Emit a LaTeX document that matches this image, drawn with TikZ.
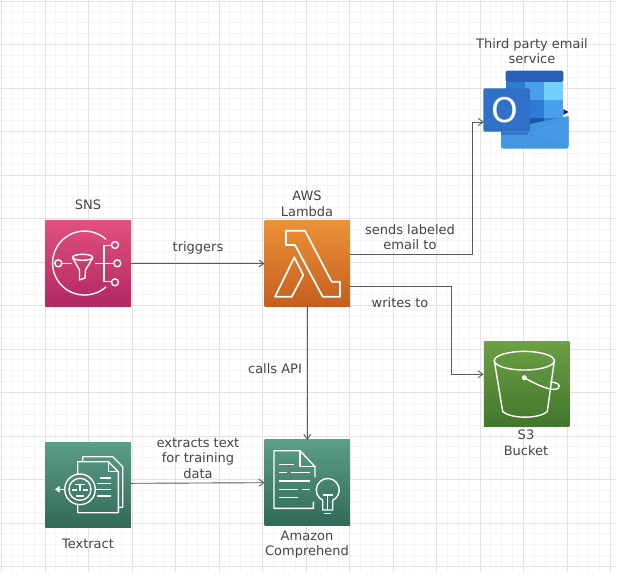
\documentclass[tikz,border=0pt]{standalone}
\usepackage{fontspec}
\setmainfont{DejaVu Sans}
\usetikzlibrary{arrows.meta}
\definecolor{labelgray}{HTML}{444444}
\definecolor{linkgray}{HTML}{5A5A5A}
\tikzset{
  awsbox/.style={minimum size=85.5pt,inner sep=0pt,outer sep=0pt},
  caption/.style={align=center,text=labelgray,inner sep=0pt,font=\fontsize{13}{15.5}\selectfont},
  link/.style={linkgray,line width=0.9pt,-{Straight Barb[length=5pt,width=7pt]}},
  icon/.style={white,line width=1.4pt,line join=round}
}
\begin{document}
\begin{tikzpicture}[x=1pt,y=-1pt]
\useasboundingbox (0,0) rectangle (617,573);
\fill[white] (0,0) rectangle (617,573);
\foreach \i in {0,...,56}
  {\draw[black!4,line width=0.8pt] (\i*10.875+1.5,0) -- (\i*10.875+1.5,572);
  \draw[black!4,line width=0.8pt] (0,\i*10.875+1) -- (616,\i*10.875+1);}
\foreach \i in {0,...,14}
  {\draw[black!11,line width=0.8pt] (\i*43.5+1.5,0) -- (\i*43.5+1.5,572);
  \draw[black!11,line width=0.8pt] (0,\i*43.5+1) -- (616,\i*43.5+1);}
\node[awsbox,top color={rgb,255:red,226;green,80;blue,128},bottom color={rgb,255:red,176;green,40;blue,96}] (sns) at (88.2,263.5) {};
\node[awsbox,top color={rgb,255:red,236;green,146;blue,54},bottom color={rgb,255:red,196;green,94;blue,32}] (lambda) at (307.3,263.5) {};
\node[awsbox,top color={rgb,255:red,108;green,160;blue,68},bottom color={rgb,255:red,66;green,118;blue,44}] (s3) at (526.5,384.2) {};
\node[awsbox,top color={rgb,255:red,92;green,158;blue,136},bottom color={rgb,255:red,48;green,106;blue,88}] (textract) at (88.2,484.8) {};
\node[awsbox,top color={rgb,255:red,92;green,158;blue,136},bottom color={rgb,255:red,48;green,106;blue,88}] (comprehend) at (307.3,482.7) {};
\node[minimum width=86pt,minimum height=80pt,inner sep=0pt,outer sep=0pt] (outlook) at (527,110) {};
\fill[rounded corners=1.5pt,fill={rgb,255:red,40;green,96;blue,184}] (505.7,70.7) rectangle (563.3,82);
\fill[fill={rgb,255:red,46;green,124;blue,208}] (505.7,81.7) rectangle (525,100);
\fill[fill={rgb,255:red,74;green,160;blue,232}] (525,81.7) rectangle (544,100);
\fill[fill={rgb,255:red,115;green,207;blue,253}] (544,81.7) rectangle (563.3,100);
\fill[fill={rgb,255:red,46;green,123;blue,213}] (505.7,100) rectangle (544,117.5);
\fill[fill={rgb,255:red,74;green,160;blue,232}] (544,100) rectangle (563.3,117.5);
\fill[fill={rgb,255:red,31;green,87;blue,168}] (505.7,117.5) rectangle (544,135);
\fill[fill={rgb,255:red,46;green,123;blue,213}] (544,117.5) rectangle (563.3,135);
\fill[fill={rgb,255:red,16;green,36;blue,122}] (563.3,109) -- (568.5,112) -- (563.3,115) -- cycle;
\fill[rounded corners=2pt,fill={rgb,255:red,66;green,150;blue,226}] (501,130) -- (568.5,116) -- (568.5,148.5) -- (501,148.5) -- cycle;
\fill[fill={rgb,255:red,70;green,154;blue,230}] (531,133) -- (568.5,116) -- (568.5,146) -- cycle;
\fill[fill={rgb,255:red,40;green,96;blue,168},opacity=0.55] (501,131.5) rectangle (528,135);
\fill[rounded corners=2pt,fill={rgb,255:red,47;green,113;blue,199}] (483.3,88.3) rectangle (530,131.7);
\node[text=white,inner sep=0pt,font=\fontsize{34}{34}\selectfont] (outlookletter) at (505,110.5) {O};
\draw[icon] (106,239.3) arc[start angle=-48,end angle=-312,radius=32];
\draw[icon] (58.3,263.3) circle[radius=3.5];
\draw[icon] (82.7,257.3) ellipse[x radius=10,y radius=3];
\draw[icon] (72.7,258) -- (79.5,270) -- (79.5,280) -- (85,278) -- (85.5,270) -- (92.7,258);
\draw[icon] (62,263.3) -- (72,263.3);
\draw[icon] (95,263.3) -- (113.8,263.3);
\draw[icon] (111.5,245.7) -- (104,245.7) -- (104,281.7) -- (111.5,281.7);
\draw[icon] (115,245) circle[radius=3.5];
\draw[icon] (117.3,263.3) circle[radius=3.5];
\draw[icon] (115,282.3) circle[radius=3.5];
\draw[icon,line width=1.7pt] (286,230.7) -- (305,230.7) -- (331.7,281.7) -- (340,281.7) -- (340,296.7) -- (322.7,296.7) -- (295,245) -- (286,245) -- cycle;
\draw[icon,line width=1.7pt] (275,296.7) -- (294.3,257.3) -- (303.3,275) -- (291.7,296.7) -- cycle;
\draw[icon] (524.3,360.7) ellipse[x radius=30,y radius=9.3];
\draw[icon] (494.3,360.7) -- (502.7,411.7) .. controls (512,419) and (538,419) .. (547.3,411.7) -- (554.3,360.7);
\fill[white] (524.3,377.7) circle[radius=2.5];
\draw[icon] (524.3,377.7) .. controls (535,384) and (552,392) .. (558,388.5) .. controls (562,384.5) and (556,382) .. (550,382);
\draw[icon] (77.7,475) -- (77.7,461.7) -- (108.3,461.7) -- (118.3,471.7) -- (118.3,512.7) -- (77.7,512.7) -- (77.7,504);
\draw[icon] (108.3,461.7) -- (108.3,471.7) -- (118.3,471.7);
\draw[icon] (82.7,461.5) -- (82.7,456.7) -- (112.7,456.7) -- (122.7,466.7) -- (122.7,507.3) -- (118.3,507.3);
\draw[icon] (80,489.3) circle[radius=15.3];
\draw[icon] (80,489.3) circle[radius=11];
\draw[icon] (100,478) -- (111,478);
\draw[icon] (97,483.5) -- (111,483.5);
\draw[icon] (96,489.5) -- (111,489.5);
\draw[icon] (97,496) -- (111,496);
\draw[icon] (59,489.3) -- (65,489.3);
\fill[white] (55,489.3) -- (59.5,486) -- (59.5,492.6) -- cycle;
\draw[icon,line width=1.9pt] (75,484.5) -- (85,484.5);
\draw[icon,line width=1.9pt] (80,484.5) -- (80,491);
\draw[icon] (72,490) -- (77,490);
\draw[icon] (83,490) -- (88,490);
\draw[icon] (76,496) -- (84,496);
\draw[icon] (315,477.3) -- (315,466.7) -- (300,450.7) -- (274,450.7) -- (274,508.3) -- (313.3,508.3) -- (313.3,501.7);
\draw[icon] (300,450.7) -- (300,466.7) -- (315,466.7);
\draw[icon] (279.3,464.3) -- (294,464.3);
\draw[icon] (279.3,472.7) -- (286.7,472.7);
\draw[icon] (290.7,472.7) -- (310,472.7);
\draw[icon] (279.3,481) -- (310,481);
\draw[icon] (279.3,489.3) -- (298.3,489.3);
\draw[icon] (301.7,489.3) -- (310,489.3);
\draw[icon] (279.3,497.7) -- (298.3,497.7);
\draw[icon] (322.7,500.3) arc[start angle=116,end angle=424,radius=11.5] -- (332.7,510) -- (322.7,510) -- cycle;
\draw[icon] (324,513.3) -- (331.3,513.3);
\draw[icon] (322.7,495) -- (332.7,495);
\draw[icon] (327.7,495) -- (327.7,510);
\node[caption] (snslabel) at (88,204.5) {SNS};
\node[caption] (lambdalabel) at (307,204) {AWS\\Lambda};
\node[caption] (outlooklabel) at (532,51) {Third party email\\service};
\node[caption] (s3label) at (526,443) {S3\\Bucket};
\node[caption] (textractlabel) at (88,544) {Textract};
\node[caption] (comprehendlabel) at (307,544.5) {Amazon\\Comprehend};
\node[caption] (triggerslabel) at (198,248) {triggers};
\node[caption] (sendslabel) at (410,237) {sends labeled\\email to};
\node[caption] (writeslabel) at (400,302.5) {writes to};
\node[caption] (callslabel) at (275,369) {calls API};
\node[caption] (extractslabel) at (198,458.5) {extracts text\\for training\\data};
\draw[link] (sns) -- (lambda);
\draw[link] ([yshift=9.5pt]lambda.east) -- ++(122,0) |- ([yshift=-12pt]outlook.west);
\draw[link] ([yshift=-22.5pt]lambda.east) -- ++(101,0) |- ([yshift=10pt]s3.west);
\draw[link] (lambda) -- (comprehend);
\draw[link] ([yshift=1.5pt]textract.east) -- (comprehend.west);
\end{tikzpicture}
\end{document}
